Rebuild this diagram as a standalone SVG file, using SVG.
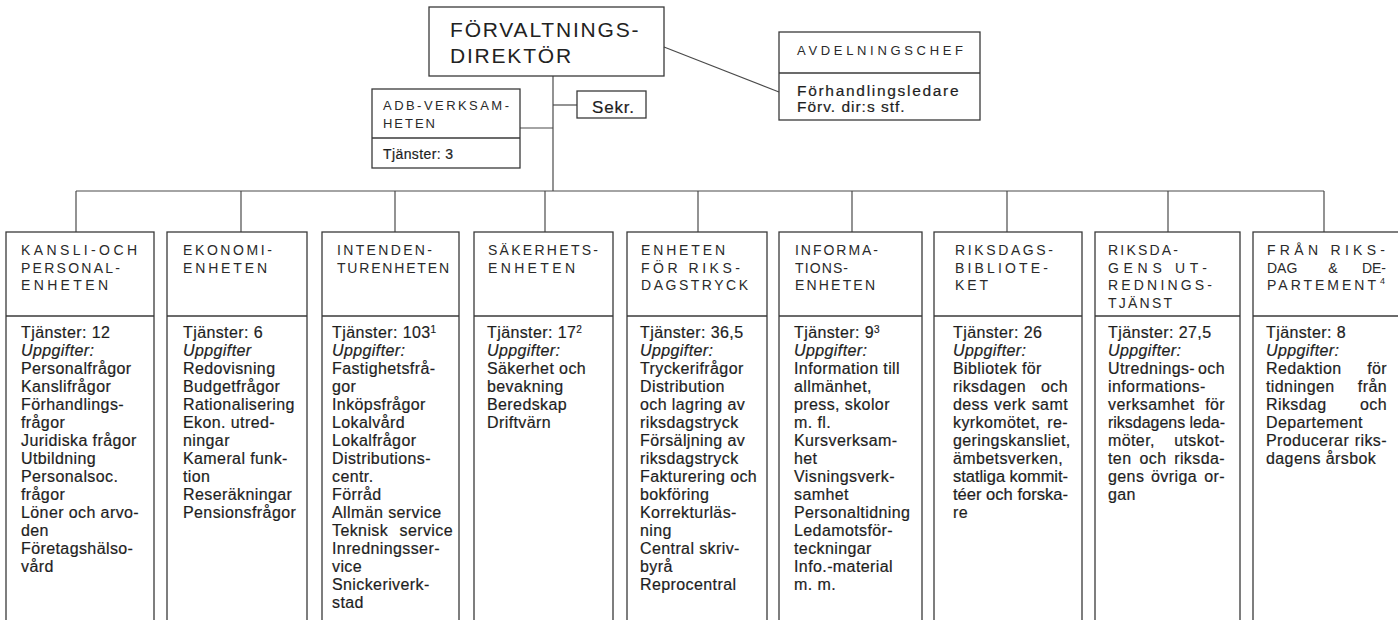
<svg xmlns="http://www.w3.org/2000/svg" width="1398" height="620" viewBox="0 0 1398 620">
<style>
.box{fill:none;stroke:#3a3a3a;stroke-width:1.3}
.ln{stroke:#4a4a4a;stroke-width:1.2;fill:none}
.h{font-family:"Liberation Sans",Arial,sans-serif;font-size:14px;fill:#2a2a2a}
.b{font-family:"Liberation Sans",Arial,sans-serif;font-size:16px;letter-spacing:0.4px;fill:#1e1e1e;stroke:#1e1e1e;stroke-width:0.2}
.i{font-style:italic}
.e{text-anchor:end}
.m{text-anchor:middle}
.t{font-family:"Liberation Sans",Arial,sans-serif;font-size:21px;letter-spacing:1.8px;fill:#222}
</style>
<rect width="1398" height="620" fill="#fff"/>
<g id="connectors" class="ln">
<line x1="553" y1="76" x2="553" y2="191"/>
<line x1="76" y1="191" x2="1324" y2="191"/>
<line x1="520" y1="128" x2="553" y2="128"/>
<line x1="553" y1="105" x2="577" y2="105"/>
<line x1="664" y1="47" x2="779" y2="92"/>
<line x1="76" y1="191" x2="76" y2="232"/>
<line x1="241" y1="191" x2="241" y2="232"/>
<line x1="395" y1="191" x2="395" y2="232"/>
<line x1="545" y1="191" x2="545" y2="232"/>
<line x1="698" y1="191" x2="698" y2="232"/>
<line x1="852" y1="191" x2="852" y2="232"/>
<line x1="1007" y1="191" x2="1007" y2="232"/>
<line x1="1168" y1="191" x2="1168" y2="232"/>
<line x1="1324" y1="191" x2="1324" y2="232"/>
</g>
<g id="forvaltningsdirektor">
<rect class="box" x="429" y="7" width="235" height="69"/>
<text class="t" x="450" y="37">FÖRVALTNINGS-</text>
<text class="t" x="450" y="63">DIREKTÖR</text>
</g>
<g id="avdelningschef">
<rect class="box" x="779" y="32" width="201" height="88"/>
<line class="box" x1="779" y1="73" x2="980" y2="73"/>
<text class="h" x="797" y="55" textLength="166" style="font-size:13px">AVDELNINGSCHEF</text>
<text class="b" x="797" y="96" textLength="162" style="font-size:15.5px">Förhandlingsledare</text>
<text class="b" x="797" y="112" textLength="108" style="font-size:15.5px">Förv. dir:s stf.</text>
</g>
<g id="sekr">
<rect class="box" x="577" y="91" width="69" height="27"/>
<text class="b" x="592" y="113" style="font-size:17px;letter-spacing:0.8px">Sekr.</text>
</g>
<g id="adb">
<rect class="box" x="372" y="89" width="148" height="79"/>
<line class="box" x1="372" y1="138" x2="520" y2="138"/>
<text class="h" x="383" y="110" textLength="126" style="font-size:13px">ADB-VERKSAM-</text>
<text class="h" x="383" y="128" textLength="52" style="font-size:13px">HETEN</text>
<text class="b" x="383" y="159" style="font-size:14px">Tjänster: 3</text>
</g>
<g id="kansli">
<rect class="box" x="6" y="232" width="148" height="400"/>
<line class="box" x1="6" y1="316" x2="154" y2="316"/>
<text class="h" x="21" y="255" textLength="116">KANSLI-OCH</text>
<text class="h" x="21" y="272.5" textLength="99">PERSONAL-</text>
<text class="h" x="21" y="290" textLength="87">ENHETEN</text>
<text class="b"><tspan x="21" y="338">Tjänster: 12</tspan><tspan x="21" y="356" class="i">Uppgifter:</tspan><tspan x="21" y="374">Personalfrågor</tspan><tspan x="21" y="392">Kanslifrågor</tspan><tspan x="21" y="410">Förhandlings-</tspan><tspan x="21" y="428">frågor</tspan><tspan x="21" y="446">Juridiska frågor</tspan><tspan x="21" y="464">Utbildning</tspan><tspan x="21" y="482">Personalsoc.</tspan><tspan x="21" y="500">frågor</tspan><tspan x="21" y="518">Löner och arvo-</tspan><tspan x="21" y="536">den</tspan><tspan x="21" y="554">Företagshälso-</tspan><tspan x="21" y="572">vård</tspan></text>
</g>
<g id="ekonomi">
<rect class="box" x="167" y="232" width="140" height="400"/>
<line class="box" x1="167" y1="316" x2="307" y2="316"/>
<text class="h" x="183" y="255" textLength="89">EKONOMI-</text>
<text class="h" x="183" y="272.5" textLength="84">ENHETEN</text>
<text class="b"><tspan x="183" y="338">Tjänster: 6</tspan><tspan x="183" y="356" class="i">Uppgifter</tspan><tspan x="183" y="374">Redovisning</tspan><tspan x="183" y="392">Budgetfrågor</tspan><tspan x="183" y="410">Rationalisering</tspan><tspan x="183" y="428">Ekon. utred-</tspan><tspan x="183" y="446">ningar</tspan><tspan x="183" y="464">Kameral funk-</tspan><tspan x="183" y="482">tion</tspan><tspan x="183" y="500">Reseräkningar</tspan><tspan x="183" y="518">Pensionsfrågor</tspan></text>
</g>
<g id="intendentur">
<rect class="box" x="322" y="232" width="137" height="400"/>
<line class="box" x1="322" y1="316" x2="459" y2="316"/>
<text class="h" x="337" y="255" textLength="95">INTENDEN-</text>
<text class="h" x="337" y="272.5" textLength="112">TURENHETEN</text>
<text class="b"><tspan x="332" y="338">Tjänster: 103<tspan font-size="10" baseline-shift="super">1</tspan></tspan><tspan x="332" y="356" class="i">Uppgifter:</tspan><tspan x="332" y="374">Fastighetsfrå-</tspan><tspan x="332" y="392">gor</tspan><tspan x="332" y="410">Inköpsfrågor</tspan><tspan x="332" y="428">Lokalvård</tspan><tspan x="332" y="446">Lokalfrågor</tspan><tspan x="332" y="464">Distributions-</tspan><tspan x="332" y="482">centr.</tspan><tspan x="332" y="500">Förråd</tspan><tspan x="332" y="518">Allmän service</tspan><tspan x="332" y="536">Teknisk</tspan><tspan x="332" y="554">Inredningsser-</tspan><tspan x="332" y="572">vice</tspan><tspan x="332" y="590">Snickeriverk-</tspan><tspan x="332" y="608">stad</tspan></text>
<text class="b e" x="453" y="536">service</text>
</g>
<g id="sakerhet">
<rect class="box" x="474" y="232" width="139" height="400"/>
<line class="box" x1="474" y1="316" x2="613" y2="316"/>
<text class="h" x="488" y="255" textLength="110">SÄKERHETS-</text>
<text class="h" x="488" y="272.5" textLength="87">ENHETEN</text>
<text class="b"><tspan x="487" y="338">Tjänster: 17<tspan font-size="10" baseline-shift="super">2</tspan></tspan><tspan x="487" y="356" class="i">Uppgifter:</tspan><tspan x="487" y="374">Säkerhet och</tspan><tspan x="487" y="392">bevakning</tspan><tspan x="487" y="410">Beredskap</tspan><tspan x="487" y="428">Driftvärn</tspan></text>
</g>
<g id="riksdagstryck">
<rect class="box" x="627" y="232" width="140" height="400"/>
<line class="box" x1="627" y1="316" x2="767" y2="316"/>
<text class="h" x="641" y="255" textLength="84">ENHETEN</text>
<text class="h" x="641" y="272.5" textLength="99">FÖR RIKS-</text>
<text class="h" x="641" y="290" textLength="107">DAGSTRYCK</text>
<text class="b"><tspan x="640" y="338">Tjänster: 36,5</tspan><tspan x="640" y="356" class="i">Uppgifter:</tspan><tspan x="640" y="374">Tryckerifrågor</tspan><tspan x="640" y="392">Distribution</tspan><tspan x="640" y="410">och lagring av</tspan><tspan x="640" y="428">riksdagstryck</tspan><tspan x="640" y="446">Försäljning av</tspan><tspan x="640" y="464">riksdagstryck</tspan><tspan x="640" y="482">Fakturering och</tspan><tspan x="640" y="500">bokföring</tspan><tspan x="640" y="518">Korrekturläs-</tspan><tspan x="640" y="536">ning</tspan><tspan x="640" y="554">Central skriv-</tspan><tspan x="640" y="572">byrå</tspan><tspan x="640" y="590">Reprocentral</tspan></text>
</g>
<g id="information">
<rect class="box" x="779" y="232" width="143" height="400"/>
<line class="box" x1="779" y1="316" x2="922" y2="316"/>
<text class="h" x="795" y="255" textLength="83">INFORMA-</text>
<text class="h" x="795" y="272.5" textLength="53">TIONS-</text>
<text class="h" x="795" y="290" textLength="80">ENHETEN</text>
<text class="b"><tspan x="794" y="338">Tjänster: 9<tspan font-size="10" baseline-shift="super">3</tspan></tspan><tspan x="794" y="356" class="i">Uppgifter:</tspan><tspan x="794" y="374">Information till</tspan><tspan x="794" y="392">allmänhet,</tspan><tspan x="794" y="410">press, skolor</tspan><tspan x="794" y="428">m. fl.</tspan><tspan x="794" y="446">Kursverksam-</tspan><tspan x="794" y="464">het</tspan><tspan x="794" y="482">Visningsverk-</tspan><tspan x="794" y="500">samhet</tspan><tspan x="794" y="518">Personaltidning</tspan><tspan x="794" y="536">Ledamotsför-</tspan><tspan x="794" y="554">teckningar</tspan><tspan x="794" y="572">Info.-material</tspan><tspan x="794" y="590">m. m.</tspan></text>
</g>
<g id="bibliotek">
<rect class="box" x="934" y="232" width="148" height="400"/>
<line class="box" x1="934" y1="316" x2="1082" y2="316"/>
<text class="h" x="955" y="255" textLength="98">RIKSDAGS-</text>
<text class="h" x="955" y="272.5" textLength="93">BIBLIOTE-</text>
<text class="h" x="955" y="290" textLength="33">KET</text>
<text class="b"><tspan x="953" y="338">Tjänster: 26</tspan><tspan x="953" y="356" class="i">Uppgifter:</tspan><tspan x="953" y="374">Bibliotek för</tspan><tspan x="953" y="392">riksdagen</tspan><tspan x="953" y="410">dess</tspan><tspan x="953" y="428">kyrkomötet,</tspan><tspan x="953" y="446">geringskansliet,</tspan><tspan x="953" y="464">ämbetsverken,</tspan><tspan x="953" y="518">re</tspan></text>
<text class="b m" x="1010" y="410">verk</text>
<text class="b e"><tspan x="1068" y="392">och</tspan><tspan x="1068" y="410">samt</tspan><tspan x="1068" y="428">re-</tspan></text>
<text class="b" x="953" y="482" textLength="115" lengthAdjust="spacingAndGlyphs" style="letter-spacing:0">statliga kommit-</text>
<text class="b" x="953" y="500" textLength="115" lengthAdjust="spacingAndGlyphs" style="letter-spacing:0">téer och forska-</text>
</g>
<g id="utredningstjanst">
<rect class="box" x="1095" y="232" width="145" height="400"/>
<line class="box" x1="1095" y1="316" x2="1240" y2="316"/>
<text class="h" x="1108" y="255" textLength="70">RIKSDA-</text>
<text class="h" x="1108" y="272.5" textLength="99">GENS UT-</text>
<text class="h" x="1108" y="290" textLength="104">REDNINGS-</text>
<text class="h" x="1108" y="307.5" textLength="64">TJÄNST</text>
<text class="b"><tspan x="1108" y="338">Tjänster: 27,5</tspan><tspan x="1108" y="356" class="i">Uppgifter:</tspan><tspan x="1108" y="374">Utrednings-</tspan><tspan x="1108" y="392">informations-</tspan><tspan x="1108" y="410">verksamhet</tspan><tspan x="1108" y="446">möter,</tspan><tspan x="1108" y="464">ten</tspan><tspan x="1108" y="482">gens</tspan><tspan x="1108" y="500">gan</tspan></text>
<text class="b" x="1108" y="428" textLength="117" lengthAdjust="spacingAndGlyphs" style="letter-spacing:0">riksdagens leda-</text>
<text class="b m" x="1153" y="464">och</text>
<text class="b m" x="1174" y="482">övriga</text>
<text class="b e"><tspan x="1225" y="374">och</tspan><tspan x="1225" y="410">för</tspan><tspan x="1225" y="446">utskot-</tspan><tspan x="1225" y="464">riksda-</tspan><tspan x="1225" y="482">or-</tspan></text>
</g>
<g id="fran-riksdag">
<rect class="box" x="1253" y="232" width="150" height="400"/>
<line class="box" x1="1253" y1="316" x2="1398" y2="316"/>
<text class="h" x="1267" y="255" textLength="118">FRÅN RIKS-</text>
<text class="h" x="1267" y="272.5">DAG</text>
<text class="h m" x="1333" y="272.5">&amp;</text>
<text class="h e" x="1386" y="272.5">DE-</text>
<text class="h" x="1267" y="290" textLength="109">PARTEMENT</text>
<text class="h" x="1380" y="284" style="font-size:9px">4</text>
<text class="b"><tspan x="1266" y="338">Tjänster: 8</tspan><tspan x="1266" y="356" class="i">Uppgifter:</tspan><tspan x="1266" y="374">Redaktion</tspan><tspan x="1266" y="392">tidningen</tspan><tspan x="1266" y="410">Riksdag</tspan><tspan x="1266" y="428">Departement</tspan><tspan x="1266" y="446">Producerar</tspan><tspan x="1266" y="464">dagens årsbok</tspan></text>
<text class="b e"><tspan x="1387" y="374">för</tspan><tspan x="1387" y="392">från</tspan><tspan x="1387" y="410">och</tspan><tspan x="1387" y="446">riks-</tspan></text>
</g>
</svg>
